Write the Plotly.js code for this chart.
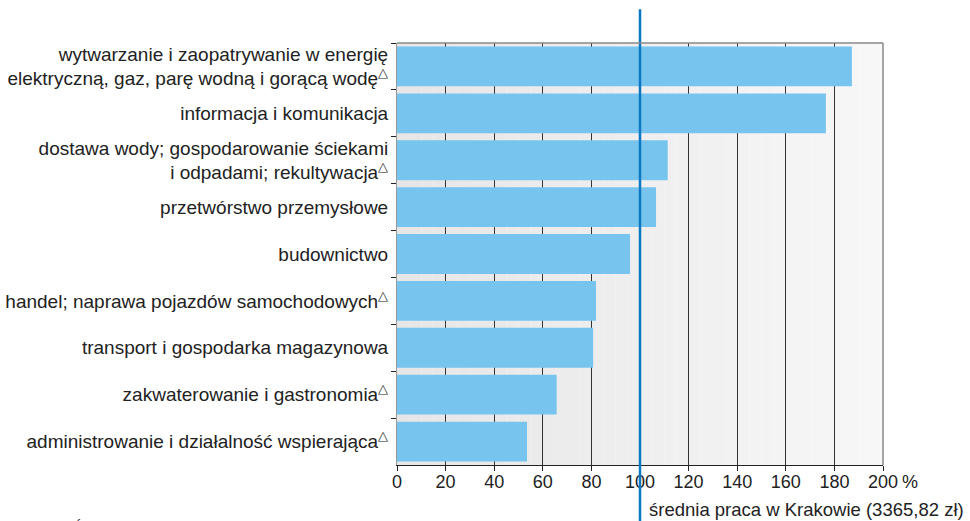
<!DOCTYPE html>
<html>
<head>
<meta charset="utf-8">
<script src="https://cdn.plot.ly/plotly-3.0.1.min.js"></script>
<style>
html,body{margin:0;padding:0;background:#fff;}
#chart{width:970px;height:521px;}
</style>
</head>
<body>
<div id="chart"></div>
<script>
// Data (top to bottom)
const categories = [
  "wytwarzanie i zaopatrywanie w energię<br>elektryczną, gaz, parę wodną i gorącą wodę<sup>△</sup>",
  "informacja i komunikacja",
  "dostawa wody; gospodarowanie ściekami<br>i odpadami; rekultywacja<sup>△</sup>",
  "przetwórstwo przemysłowe",
  "budownictwo",
  "handel; naprawa pojazdów samochodowych<sup>△</sup>",
  "transport i gospodarka magazynowa",
  "zakwaterowanie i gastronomia<sup>△</sup>",
  "administrowanie i działalność wspierająca<sup>△</sup>"
];
const values = [187.2, 176.5, 111.4, 106.6, 95.9, 81.9, 80.7, 65.7, 53.5];
const tickVals = [0, 20, 40, 60, 80, 100, 120, 140, 160, 180, 200];
const tickLabels = ["0", "20", "40", "60", "80", "100", "120", "140", "160", "180", "200"];
const averageValue = 100;
const averageLabel = "średnia praca w Krakowie (3365,82 zł)";
const unitLabel = "%";
const sourceLabel = "Źródło: Opracowanie własne na podstawie US Kraków";

const sans = "'Liberation Sans', Arial, sans-serif";

// background gradient strips (style only)
const shapes = [];
const nStrips = 40;
for (let i = 0; i < nStrips; i++) {
  const t = i / (nStrips - 1);
  const c = Math.round(230 + t * (247 - 230));
  shapes.push({type:'rect', xref:'paper', yref:'paper', x0:i/nStrips, x1:(i+1)/nStrips, y0:0, y1:1,
    fillcolor:`rgb(${c},${c},${c})`, line:{width:0}, layer:'below'});
}
shapes.push({type:'line', xref:'x', yref:'paper', x0:averageValue, x1:averageValue, y0:-0.135, y1:1.08,
  line:{color:'#0a78c2', width:2.5}, layer:'above'});

const trace = {
  type:'bar', orientation:'h',
  x: values, y: categories,
  marker:{color:'#77c4ef', line:{width:0}},
  hoverinfo:'x+y'
};

const layout = {
  width:970, height:521,
  margin:{l:397, r:87, t:43, b:56},
  paper_bgcolor:'#ffffff',
  plot_bgcolor:'rgba(0,0,0,0)',
  bargap:0.15,
  showlegend:false,
  font:{family:sans, size:18, color:'#222'},
  xaxis:{
    range:[0,200], tickvals:tickVals, ticktext:tickLabels,
    showgrid:true, gridcolor:'#333', gridwidth:1,
    zeroline:false, showline:true, linecolor:'#222', linewidth:1,
    ticks:'outside', ticklen:5, tickcolor:'#222',
    tickfont:{family:sans, size:18, color:'#222'},
    ticklabelstandoff:-5,
    mirror:false, fixedrange:true
  },
  yaxis:{
    autorange:'reversed', type:'category',
    showgrid:false, zeroline:false,
    showline:true, linecolor:'#999', linewidth:1,
    ticks:'outside', ticklen:5, tickcolor:'#222', tickson:'boundaries',
    tickfont:{family:sans, size:19, color:'#222'},
    ticklabelstandoff:4, fixedrange:true
  },
  shapes: shapes.concat([
    {type:'line', xref:'paper', yref:'paper', x0:0, x1:1, y0:1, y1:1, line:{color:'#888', width:1.5}},
    {type:'line', xref:'paper', yref:'paper', x0:1, x1:1, y0:0, y1:1, line:{color:'#888', width:1.5}}
  ]),
  annotations:[
    {xref:'paper', yref:'paper', x:1.035, y:-0.013, xanchor:'left', yanchor:'top', showarrow:false,
     text:unitLabel, font:{family:sans, size:18, color:'#222'}},
    {xref:'x', yref:'paper', x:averageValue, y:-0.077, xanchor:'left', yanchor:'top', xshift:7, showarrow:false,
     text:averageLabel, font:{family:sans, size:18.5, color:'#222'}},
    {xref:'paper', yref:'paper', x:-0.668, y:-0.124, xanchor:'left', yanchor:'top', showarrow:false,
     text:sourceLabel, font:{family:sans, size:14, color:'#333'}}
  ]
};

Plotly.newPlot('chart', [trace], layout, {displayModeBar:false, staticPlot:true});
</script>
</body>
</html>
